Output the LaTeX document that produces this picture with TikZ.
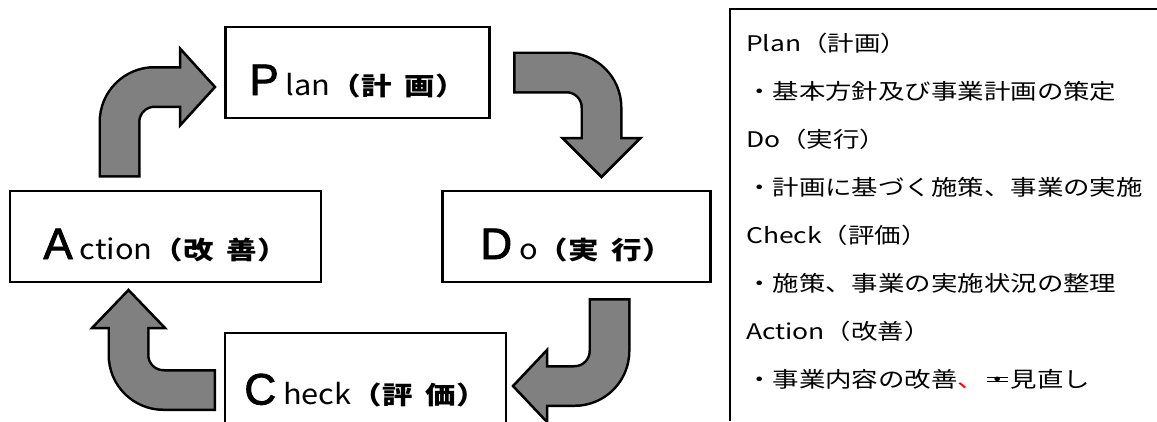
\documentclass[tikz,border=0pt]{standalone}
\usepackage{fontspec}
\usepackage{tikz}
\usetikzlibrary{positioning}
\newfontfamily\bigfont[FakeBold=2]{Liberation Sans}
\newfontfamily\latfont[FakeStretch=1.1]{Noto Sans CJK JP}
\newfontfamily\cycfont[FakeStretch=1.22]{Noto Sans CJK JP}
\newfontfamily\notefont[FakeStretch=1.23]{Noto Sans CJK JP}
\definecolor{arrowgray}{HTML}{808080}
\newcommand{\cyc}[4]{{\bigfont\fontsize{44}{48}\selectfont #1}\hspace{7pt}{\latfont\fontsize{28}{30}\selectfont #2}{\cycfont\fontsize{25}{30}\selectfont\bfseries（#3\hspace{13pt}#4）}}
\newcommand{\dstrike}[1]{\ooalign{#1\cr\hidewidth\rule[0.27em]{0.95em}{1.1pt}\hidewidth\cr\hidewidth\rule[0.47em]{0.95em}{1.1pt}\hidewidth\cr}}

\begin{document}
\begin{tikzpicture}[x=1pt,y=-1pt,node distance=119pt]
  \tikzstyle{cycbox}=[draw,line width=2.6pt,minimum height=91pt,text height=49pt,text depth=4pt,inner sep=0pt]
  \tikzstyle{note}=[anchor=base west,inner sep=0pt,font=\notefont\fontsize{21.5}{26}\selectfont]
  \tikzstyle{shaftout}=[draw=black,line width=42pt,rounded corners=35pt]
  \tikzstyle{shaftin}=[draw=arrowgray,line width=37pt,rounded corners=35pt]
  \tikzstyle{head}=[fill=arrowgray,draw=black,line width=2.5pt,line join=miter]

  \useasboundingbox (0,0) rectangle (1157,421);

  % the four steps
  \node[cycbox,minimum width=264pt] (plan)   at (357.5,72.5)  {\cyc{P}{lan}{計}{画}};
  \node[cycbox,minimum width=311pt] (action) at (165.5,236.5) {\cyc{A}{ction}{改}{善}};
  \node[cycbox,minimum width=268pt] (do)     [right=of action] {\cyc{D}{o}{実}{行}};
  \node[cycbox,minimum width=281pt,minimum height=98pt] (check) at (365.5,382) {\cyc{C}{heck}{評}{価}};

  % bent arrows: tail, head base, tip
  \coordinate (a1t) at (119.5,175);   \coordinate (a1b) at (180,87);    \coordinate (a1p) at (215,87);
  \coordinate (a2t) at (515.5,72.5);  \coordinate (a2b) at (601.5,138); \coordinate (a2p) at (601.5,177);
  \coordinate (a3t) at (609.5,300.5); \coordinate (a3b) at (547,386);   \coordinate (a3p) at (513,386);
  \coordinate (a4t) at (213.5,390);   \coordinate (a4b) at (128.5,328); \coordinate (a4p) at (128.5,290);

  \draw[shaftout,shorten <=-2.5pt] (a1t) |- (a1b);
  \draw[head] ([yshift=38.5pt]a1b) -- (a1p) -- ([yshift=-38.5pt]a1b) -- cycle;
  \draw[shaftin] (a1t) |- ([xshift=6pt]a1b);

  \draw[shaftout,shorten <=-2.5pt] (a2t) -| (a2b);
  \draw[head] ([xshift=-39pt]a2b) -- (a2p) -- ([xshift=39pt]a2b) -- cycle;
  \draw[shaftin] (a2t) -| ([yshift=-6pt]a2b);

  \draw[shaftout,shorten <=-2.5pt] (a3t) |- (a3b);
  \draw[head] ([yshift=36pt]a3b) -- (a3p) -- ([yshift=-36pt]a3b) -- cycle;
  \draw[shaftin] (a3t) |- ([xshift=-6pt]a3b);

  \draw[shaftout,shorten <=-2.5pt] (a4t) -| (a4b);
  \draw[head] ([xshift=-36.5pt]a4b) -- (a4p) -- ([xshift=36.5pt]a4b) -- cycle;
  \draw[shaftin] (a4t) -| ([yshift=6pt]a4b);

  % notes panel
  \draw[line width=1.2pt] (1157,9) -- (730,9) -- (730,421);
  \foreach \t [count=\i] in {Plan（計画）, ・基本方針及び事業計画の策定, Do（実行）,
      ・計画に基づく施策、事業の実施, Check（評価）, ・施策、事業の実施状況の整理,
      Action（改善）, {・事業内容の改善{\color{red}、}\dstrike{・}見直し}}
    \node[note] (line\i) at (746,{51+48.1*(\i-1)}) {\t};
\end{tikzpicture}
\end{document}
